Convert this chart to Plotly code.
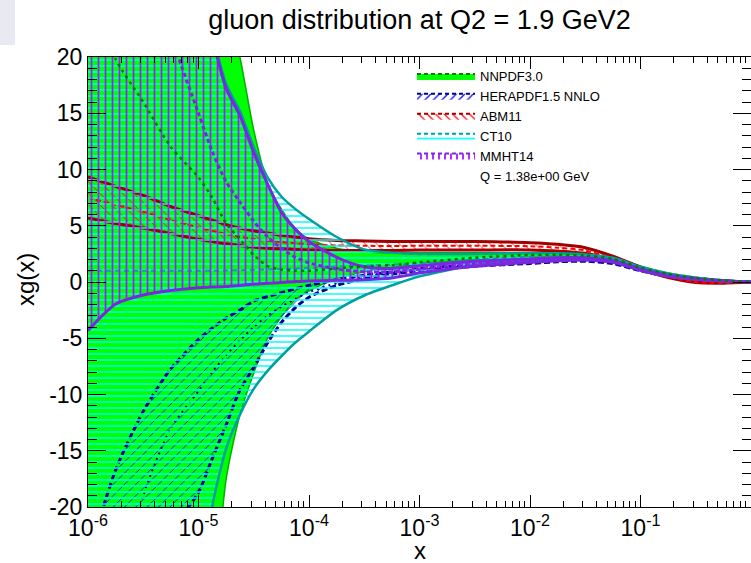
import plotly.graph_objects as go

# ---------------- data ----------------
X = [1e-6, 1.78e-6, 3.16e-6, 5.62e-6, 1e-5, 1.33e-5, 1.78e-5, 2.37e-5, 3.16e-5,
     4.22e-5, 5.62e-5, 7.5e-5, 1e-4, 1.78e-4, 3.16e-4, 5.62e-4, 1e-3, 3.16e-3,
     1e-2, 1.78e-2, 3.16e-2, 5.62e-2, 0.1, 0.178, 0.316, 0.562, 1.0]

NNPDF_UP = [60, 55, 48, 40, 33, 29, 25, 20, 13.5, 8.8, 6.5, 4.8, 3.8, 3.0, 2.7, 2.6,
            2.6, 2.6, 2.6, 2.6, 2.5, 2.2, 1.4, 0.8, 0.42, 0.18, 0.02]
NNPDF_LO = [-60, -58, -52, -45, -38, -30, -17.5, -11.8, -8.1, -5.0, -3.1, -1.6, -0.8,
            0.3, 0.9, 1.3, 1.6, 1.95, 2.2, 2.25, 2.2, 1.9, 1.15, 0.6, 0.3, 0.1, -0.02]
NNPDF_CEN = [27, 19.8, 16, 12, 9.3, 7.5, 5.2, 3.8, 2.4, 1.4, 1.1, 1.0, 1.0, 1.2, 1.4,
             1.5, 1.75, 2.15, 2.4, 2.42, 2.35, 2.05, 1.28, 0.7, 0.36, 0.14, 0]

HERA_UP = [-24.5, -16.7, -11.5, -7.7, -5.1, -4.1, -3.2, -2.5, -1.7, -1.3, -0.95, -0.6,
           -0.3, 0.2, 0.6, 0.9, 1.2, 1.55, 1.8, 1.95, 2.0, 1.8, 1.08, 0.52, 0.23, 0.09, 0]
HERA_LO = [-80, -60, -45, -22.5, -18.7, -15.7, -12.7, -9.6, -7.6, -5.4, -3.6, -2.3,
           -1.35, -0.3, 0.3, 0.7, 1.0, 1.4, 1.65, 1.8, 1.85, 1.65, 1.0, 0.48, 0.2, 0.07, 0]
HERA_CEN = [-45, -30, -19, -13, -9.7, -8.0, -6.5, -5.2, -4.0, -3.0, -2.2, -1.5, -0.9,
            -0.1, 0.45, 0.8, 1.1, 1.45, 1.7, 1.85, 1.9, 1.7, 1.03, 0.49, 0.21, 0.07, 0]

ABM_UP = [9.35, 8.5, 7.7, 6.7, 5.9, 5.5, 5.1, 4.8, 4.55, 4.35, 4.15, 4.0, 3.85, 3.7,
          3.65, 3.6, 3.6, 3.6, 3.5, 3.35, 3.05, 2.3, 1.35, 0.55, 0.05, -0.05, 0]
ABM_LO = [5.7, 5.2, 4.8, 4.3, 3.8, 3.6, 3.4, 3.25, 3.1, 3.0, 2.95, 2.9, 2.85, 2.8, 2.8,
          2.8, 2.85, 2.85, 2.85, 2.75, 2.55, 1.95, 1.1, 0.4, -0.05, -0.1, 0]
ABM_CEN = [7.5, 6.85, 6.25, 5.5, 4.85, 4.55, 4.25, 4.02, 3.82, 3.67, 3.55, 3.45, 3.35,
           3.25, 3.22, 3.2, 3.22, 3.22, 3.18, 3.05, 2.8, 2.12, 1.22, 0.47, 0.0, -0.08, 0]

CT10_UP = [60, 52, 45, 37, 30, 22.5, 17.6, 15.2, 12.0, 9.3, 7.6, 6.5, 5.6, 4.0, 2.9,
           2.6, 2.5, 2.5, 2.55, 2.55, 2.45, 2.15, 1.35, 0.75, 0.38, 0.15, 0]
CT10_LO = [-60, -55, -50, -40, -30, -20, -14.8, -11.8, -9.5, -7.9, -6.6, -5.4, -4.4,
           -2.5, -1.2, -0.3, 0.5, 1.5, 1.95, 2.05, 2.05, 1.8, 1.05, 0.5, 0.22, 0.08, 0]
CT10_CEN = [1.0, 1.0, 1.0, 1.0, 1.0, 1.0, 1.02, 1.05, 1.08, 1.12, 1.16, 1.2, 1.25,
            1.35, 1.45, 1.55, 1.65, 2.0, 2.25, 2.3, 2.25, 1.98, 1.2, 0.62, 0.3, 0.12, 0]

MMHT_UP = [60, 52, 45, 37, 30, 22, 17.2, 14.8, 11.5, 8.7, 6.2, 4.7, 3.6, 2.2, 1.35,
           1.2, 1.45, 1.85, 2.05, 2.15, 2.15, 1.9, 1.15, 0.6, 0.3, 0.12, 0]
MMHT_LO = [-4.3, -1.95, -1.15, -0.75, -0.5, -0.45, -0.4, -0.3, -0.2, -0.12, -0.05, 0.03,
           0.1, 0.15, 0.2, 0.35, 0.8, 1.4, 1.75, 1.9, 1.95, 1.75, 1.05, 0.5, 0.24, 0.09, 0]
MMHT_CEN = [70, 45, 32, 22, 15, 11.6, 8.9, 7.1, 5.4, 4.0, 3.0, 2.2, 1.7, 1.15, 0.9,
            0.9, 1.15, 1.65, 1.95, 2.05, 2.05, 1.85, 1.1, 0.55, 0.25, 0.1, 0]

LEGEND_NAMES = ["NNPDF3.0", "HERAPDF1.5 NNLO", "ABM11", "CT10", "MMHT14"]
Q_LABEL = "Q = 1.38e+00 GeV"
TITLE = "gluon distribution at Q2 = 1.9 GeV2"

X_TICKVALS = [1e-6, 1e-5, 1e-4, 1e-3, 1e-2, 1e-1, 1]
X_TICKTEXT = ["10<sup>-6</sup>", "10<sup>-5</sup>", "10<sup>-4</sup>", "10<sup>-3</sup>",
              "10<sup>-2</sup>", "10<sup>-1</sup>", "10<sup>0</sup>"]
X_MINOR = [m * d for d in [1e-6, 1e-5, 1e-4, 1e-3, 1e-2, 1e-1] for m in range(2, 10)]
Y_TICKVALS = [-20, -15, -10, -5, 0, 5, 10, 15, 20]
Y_TICKTEXT = ["-20", "-15", "-10", "-5", "0", "5", "10", "15", "20"]

FONT = "Liberation Sans, Arial, Helvetica, sans-serif"
SHAPE = "spline"
SMOOTH = 0.7

fig = go.Figure()


def band(up, lo, fillcolor=None, pattern=None):
    xs = X + X[::-1]
    ys = up + lo[::-1]
    kw = dict(x=xs, y=ys, mode="lines", fill="toself",
              line=dict(width=0, shape=SHAPE, smoothing=SMOOTH),
              hoverinfo="skip", showlegend=False)
    if pattern is not None:
        kw["fillcolor"] = "rgba(0,0,0,0)"
        kw["fillpattern"] = pattern
    else:
        kw["fillcolor"] = fillcolor
    fig.add_trace(go.Scatter(**kw))


def line(y, color, width, dash="solid"):
    fig.add_trace(go.Scatter(x=X, y=y, mode="lines",
                             line=dict(color=color, width=width, dash=dash,
                                       shape=SHAPE, smoothing=SMOOTH),
                             hoverinfo="skip", showlegend=False))


GREEN = "#00ff00"
GREEN_EDGE = "#00b000"
GREEN_CEN = "#007a00"
BLUE_H = "#0000ff"
NAVY = "#000090"
RED_H = "#ff0000"
DARKRED = "#a00000"
CYAN_H = "#00ffff"
TEAL = "#00a0a0"
PURP_H = "#a818ff"
PURP = "#7a28e0"

NOBG = "rgba(0,0,0,0)"
PAT_BLUE = dict(shape="/", fgcolor=BLUE_H, bgcolor=NOBG, size=8, solidity=0.1, fgopacity=1)
PAT_RED = dict(shape="\\", fgcolor=RED_H, bgcolor=NOBG, size=8, solidity=0.1, fgopacity=1)
PAT_CYAN = dict(shape="-", fgcolor=CYAN_H, bgcolor=NOBG, size=6, solidity=0.25, fgopacity=1)
PAT_PURP = dict(shape="|", fgcolor=PURP_H, bgcolor=NOBG, size=7, solidity=0.25, fgopacity=1)

# NNPDF3.0
band(NNPDF_UP, NNPDF_LO, fillcolor=GREEN)
line(NNPDF_UP, GREEN_EDGE, 1.5)
line(NNPDF_LO, GREEN_EDGE, 1.5)

# HERAPDF1.5
band(HERA_UP, HERA_LO, pattern=PAT_BLUE)
line(HERA_UP, NAVY, 3, "6px,3px")
line(HERA_LO, NAVY, 3, "6px,3px")
line(HERA_CEN, NAVY, 2, "2px,4px")

# ABM11
band(ABM_UP, ABM_LO, pattern=PAT_RED)
line(ABM_UP, DARKRED, 3)
line(ABM_LO, DARKRED, 3)
line(ABM_CEN, RED_H, 2, "5px,3px")

# CT10
band(CT10_UP, CT10_LO, pattern=PAT_CYAN)
line(CT10_UP, TEAL, 2.5)
line(CT10_LO, TEAL, 2.5)
line(CT10_CEN, "#2090c0", 2, "5px,4px")

# MMHT14
band(MMHT_UP, MMHT_LO, pattern=PAT_PURP)
line(MMHT_UP, PURP, 3)
line(MMHT_LO, PURP, 3)
line(MMHT_CEN, PURP, 3, "4px,3px")

# NNPDF central on top
line(NNPDF_CEN, GREEN_CEN, 2.5, "3px,4px")

# ---------------- legend entries ----------------
leg_styles = [
    dict(fillcolor=GREEN, line=dict(color=GREEN_CEN, width=2, dash="4px,3px")),
    dict(fillcolor=NOBG, fillpattern=dict(PAT_BLUE, size=6, solidity=0.2),
         line=dict(color=NAVY, width=2, dash="4px,3px")),
    dict(fillcolor=NOBG, fillpattern=dict(PAT_RED, size=6, solidity=0.2),
         line=dict(color=DARKRED, width=2, dash="4px,3px")),
    dict(fillcolor=NOBG, fillpattern=dict(PAT_CYAN, solidity=0.3),
         line=dict(color=TEAL, width=2, dash="4px,3px")),
    dict(fillcolor=NOBG, fillpattern=dict(PAT_PURP, size=6, solidity=0.3),
         line=dict(color=PURP, width=2, dash="4px,3px")),
]
for name, st in zip(LEGEND_NAMES, leg_styles):
    fig.add_trace(go.Scatter(x=[None], y=[None], mode="lines", fill="toself",
                             name=name, showlegend=True, **st))
fig.add_trace(go.Scatter(x=[None], y=[None], mode="lines", name=Q_LABEL,
                         line=dict(width=0, color=NOBG), showlegend=True))

# ---------------- layout ----------------
W, H = 751, 563
L, R, T, B = 88, 0, 57, 56
pw, ph = W - L - R, H - T - B


def px2paper_x(px):
    return (px - L) / pw


def py2paper_y(py):
    return (H - B - py) / ph


fig.update_layout(
    width=W, height=H,
    margin=dict(l=L, r=R, t=T, b=B, pad=0),
    paper_bgcolor="white", plot_bgcolor="white",
    font=dict(family=FONT, color="black"),
    title=dict(text=TITLE, x=0.5, xref="paper", y=1 - 20 / H, yref="container",
               xanchor="center", yanchor="middle", font=dict(size=27, family=FONT)),
    showlegend=True,
    legend=dict(x=px2paper_x(412), y=py2paper_y(61), xanchor="left", yanchor="top",
                bgcolor=NOBG, borderwidth=0, font=dict(size=13, family=FONT),
                itemwidth=58, tracegroupgap=0, traceorder="normal"),
    xaxis=dict(type="log", range=[-6, 0], showgrid=False, zeroline=False,
               showline=True, linecolor="black", linewidth=1, mirror="allticks",
               ticks="inside", ticklen=12, tickcolor="black",
               tickmode="array", tickvals=X_TICKVALS, ticktext=X_TICKTEXT,
               tickfont=dict(size=23, family=FONT), automargin=False,
               minor=dict(tickmode="array", tickvals=X_MINOR, ticks="inside",
                          ticklen=6, tickcolor="black", showgrid=False)),
    yaxis=dict(range=[-20, 20], showgrid=False, zeroline=False,
               showline=True, linecolor="black", linewidth=1, mirror="allticks",
               ticks="inside", ticklen=18, tickcolor="black",
               tickmode="array", tickvals=Y_TICKVALS, ticktext=Y_TICKTEXT,
               tickfont=dict(size=23, family=FONT), automargin=False,
               minor=dict(dtick=1, tick0=0, ticks="inside", ticklen=9, tickcolor="black",
                          showgrid=False)),
    annotations=[
        dict(text="x", xref="paper", yref="paper", x=0.5, y=py2paper_y(550),
             xanchor="center", yanchor="middle", showarrow=False,
             font=dict(size=24, family=FONT)),
        dict(text="xg(x)", xref="paper", yref="paper", x=px2paper_x(25), y=py2paper_y(280),
             xanchor="center", yanchor="middle", showarrow=False, textangle=-90,
             font=dict(size=24, family=FONT)),
    ],
    shapes=[dict(type="rect", xref="paper", yref="paper",
                 x0=px2paper_x(0), x1=px2paper_x(15), y0=py2paper_y(45), y1=py2paper_y(0),
                 fillcolor="#e9e9f3", line=dict(width=0), layer="below")],
)

fig.write_html("out.html")
